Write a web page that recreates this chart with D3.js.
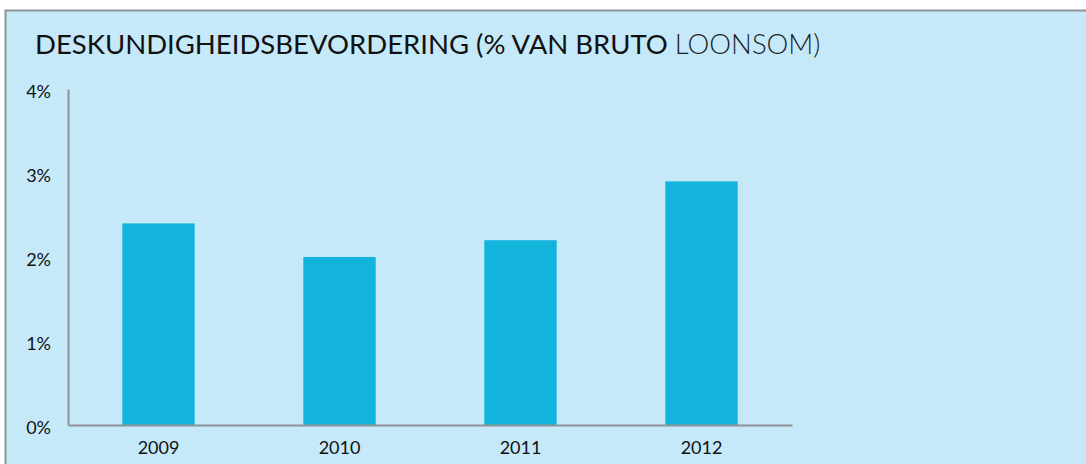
<!DOCTYPE html>
<html>
<head>
<meta charset="utf-8">
<script src="https://cdn.jsdelivr.net/npm/d3@7"></script>
<style>
  html, body { margin: 0; padding: 0; background: #ffffff; }
  svg { display: block; }
  text { font-family: Lato, "Noto Sans", sans-serif; }
</style>
</head>
<body>
<svg id="chart" width="1086" height="464"></svg>
<script>
// Data
const years = ["2009", "2010", "2011", "2012"];
const shares = [2.4, 2.0, 2.2, 2.9];          // % of gross payroll
const yTicks = [0, 1, 2, 3, 4];
const titleMain = "DESKUNDIGHEIDSBEVORDERING (% VAN BRUTO";
const titleTail = "LOONSOM)";

const W = 1086, H = 464;
const svg = d3.select("#chart");

// Panel
svg.append("rect")
  .attr("x", 5.5).attr("y", 10.5)
  .attr("width", W).attr("height", H)
  .attr("fill", "#c5e9f9")
  .attr("stroke", "#8f9296").attr("stroke-width", 2);

// Title
const title = svg.append("text")
  .attr("x", 35).attr("y", 54)
  .attr("font-size", 27.5)
  .attr("fill", "#111");
title.append("tspan").text(titleMain + " ");
title.append("tspan").attr("fill", "#1e1e1e").attr("font-weight", 300).text(titleTail);

// Scales
const plot = { left: 68, right: 792, top: 89, bottom: 425 };
const x = d3.scaleBand()
  .domain(years)
  .range([plot.left, plot.right])
  .paddingInner(0.6)
  .paddingOuter(0.3);
const y = d3.scaleLinear()
  .domain([0, 4])
  .range([plot.bottom, plot.top]);

// Bars
svg.append("g").selectAll("rect")
  .data(years.map((yr, i) => ({ yr, v: shares[i] })))
  .join("rect")
  .attr("x", d => x(d.yr))
  .attr("y", d => y(d.v))
  .attr("width", x.bandwidth())
  .attr("height", d => y(0) - y(d.v))
  .attr("fill", "#13b4db");

// Y axis
const yAxis = svg.append("g")
  .attr("transform", `translate(${plot.left},0)`)
  .call(d3.axisLeft(y).tickValues(yTicks).tickSize(0).tickPadding(17)
    .tickFormat(d => d + "%"));
yAxis.select(".domain").attr("stroke", "#8f9296").attr("stroke-width", 2);
yAxis.selectAll("text")
  .attr("font-size", 18)
  .attr("fill", "#111")
  .attr("dy", "0.45em")
  .attr("font-family", "Lato, 'Noto Sans', sans-serif");

// X axis
const xAxis = svg.append("g")
  .attr("transform", `translate(0,${plot.bottom})`)
  .call(d3.axisBottom(x).tickSize(0).tickPadding(16));
xAxis.select(".domain").attr("stroke", "#8f9296").attr("stroke-width", 2);
xAxis.selectAll("text")
  .attr("font-size", 18)
  .attr("fill", "#111")
  .attr("font-family", "Lato, 'Noto Sans', sans-serif");
</script>
</body>
</html>
